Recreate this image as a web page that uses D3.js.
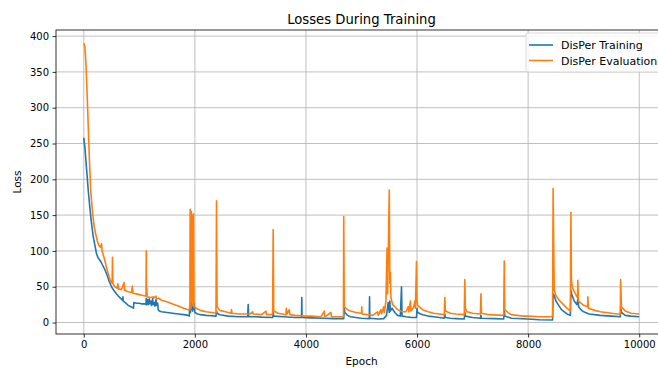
<!DOCTYPE html>
<html>
<head>
<meta charset="utf-8">
<script src="https://cdn.jsdelivr.net/npm/d3@7"></script>
<style>
  body { margin: 0; background: #fff; }
  text { font-family: "DejaVu Sans", sans-serif; }
</style>
</head>
<body>
<div id="chart"></div>
<script>
// Losses During Training - two loss curves over epochs

const seriesNames = ["DisPer Training", "DisPer Evaluation"];
const seriesColors = ["#1f77b4", "#ff7f0e"];
const xTicks = [0, 2000, 4000, 6000, 8000, 10000];
const yTicks = [0, 50, 100, 150, 200, 250, 300, 350, 400];

// [epoch, loss]
const trainLoss = [
  [0,258],[20,245],[50,215],[80,185],[110,160],[140,138],[170,120],[200,108],[230,96],[260,90],
  [300,86],[340,80],[380,74],[420,66],[460,57],[500,50],[540,45],[580,41],[620,37],[660,34],
  [700,31],[705,36],[710,30],[760,27],[800,24],[850,22],[880,21],[895,20],[900,28],[950,27],
  [1000,27],[1050,26],[1100,26],[1120,25],[1125,34],[1130,25],[1150,32],[1160,25],[1180,33],[1190,26],
  [1210,30],[1220,24],[1240,33],[1250,25],[1270,28],[1280,23],[1300,32],[1310,24],[1330,27],[1340,18],
  [1360,16],[1400,15],[1500,14],[1600,13],[1700,12],[1800,11],[1880,10],[1900,9],[1910,26],[1920,14],
  [1940,28],[1960,16],[1990,26],[2000,14],[2050,12],[2100,11],[2200,10],[2300,9.5],[2380,9],[2390,16],
  [2400,13],[2450,11],[2600,9],[2800,8],[2950,8],[2960,25],[2970,8],[3100,8],[3200,7.5],[3400,7],
  [3410,14],[3420,9],[3600,8],[3800,7],[3920,7],[3925,35],[3930,7],[4100,6.5],[4300,6],[4500,5.5],
  [4680,5.5],[4690,20],[4700,14],[4750,10],[4800,8],[4900,7],[5000,6],[5140,5.5],[5145,36],[5150,6],
  [5300,5],[5400,5.5],[5450,10],[5480,28],[5500,14],[5510,30],[5520,16],[5550,20],[5600,14],[5650,10],
  [5700,9],[5720,50],[5730,9],[5800,8],[5900,7],[5990,7],[6000,20],[6010,14],[6100,11],[6200,9],
  [6300,8],[6400,7],[6490,6],[6500,12],[6510,7],[6600,6],[6700,5.5],[6850,5],[6860,15],[6870,9],
  [7000,7],[7140,6],[7150,10],[7160,6],[7400,5.5],[7560,5],[7570,20],[7580,9],[7700,6],[8000,5],
  [8200,4],[8440,3.5],[8450,40],[8470,38],[8500,30],[8550,24],[8600,18],[8700,12],[8760,10],[8770,45],
  [8790,38],[8830,30],[8880,25],[8900,35],[8910,22],[8950,18],[9000,15],[9100,12],[9300,10],[9500,9],
  [9660,8],[9665,22],[9680,14],[9750,10],[9850,9],[9999,8]
];

const evalLoss = [
  [0,390],[20,385],[40,360],[60,320],[80,275],[100,230],[125,185],[150,160],[180,138],[210,125],
  [240,115],[270,108],[300,105],[320,110],[330,100],[360,92],[400,80],[440,68],[480,58],[510,55],
  [517,91],[525,54],[560,50],[600,48],[615,54],[625,47],[680,46],[725,56],[735,45],[800,43],
  [860,42],[875,51],[885,41],[950,40],[1000,39],[1050,38],[1100,37],[1120,37],[1125,100],[1130,37],
  [1135,48],[1140,36],[1200,35],[1250,36],[1260,34],[1300,37],[1310,33],[1350,34],[1400,31],[1500,29],
  [1600,26],[1700,23],[1800,20],[1880,18],[1910,18],[1915,158],[1925,150],[1930,20],[1935,155],[1945,30],
  [1955,150],[1965,25],[1975,152],[1985,22],[2000,21],[2050,19],[2100,17],[2200,15],[2300,14],[2380,13],
  [2390,170],[2400,22],[2450,17],[2550,15],[2650,13],[2660,18],[2670,13],[2800,12],[3000,12],[3040,15],
  [3050,12],[3200,11],[3280,16],[3290,11],[3400,11],[3410,130],[3420,16],[3500,13],[3640,11],[3645,20],
  [3660,12],[3700,18],[3710,11],[3800,10],[4000,9],[4100,9],[4270,8],[4330,16],[4340,8],[4450,14],
  [4460,8],[4600,8],[4675,8],[4680,148],[4690,22],[4750,18],[4800,16],[4900,14],[5000,13],[5005,22],
  [5010,12],[5100,11],[5200,10],[5290,15],[5300,10],[5350,18],[5360,12],[5400,22],[5410,14],[5440,30],
  [5460,104],[5470,40],[5500,185],[5510,55],[5520,70],[5530,35],[5560,25],[5600,22],[5650,18],[5700,16],
  [5750,15],[5800,15],[5840,22],[5850,15],[5880,30],[5890,16],[5940,22],[5960,30],[5970,20],[5990,85],
  [6000,30],[6010,24],[6100,18],[6200,15],[6300,13],[6400,12],[6490,11],[6500,35],[6510,16],[6600,13],
  [6700,12],[6850,11],[6860,60],[6870,20],[6900,15],[7000,13],[7140,12],[7150,40],[7160,13],[7300,11],
  [7560,10],[7570,86],[7580,18],[7650,13],[7700,11],[7800,10],[7900,9],[8000,9],[8200,8],[8440,8],
  [8450,187],[8460,110],[8470,45],[8500,38],[8550,32],[8600,28],[8650,24],[8700,20],[8760,16],[8770,154],
  [8780,58],[8800,48],[8850,40],[8890,35],[8895,59],[8905,30],[8950,27],[9000,24],[9070,22],[9075,36],
  [9085,20],[9200,17],[9300,15],[9400,14],[9500,13],[9600,12],[9660,12],[9665,60],[9680,22],[9750,16],
  [9850,13],[9999,12]
];

const svgWidth = 658;
const svgHeight = 368;

// axes box (right edge runs past the picture, like the reference)
const margin = { top: 30, right: -9, bottom: 34, left: 56 };
const width = svgWidth - margin.left - margin.right;
const height = svgHeight - margin.top - margin.bottom;

const svg = d3.select("#chart")
  .append("svg")
  .attr("width", svgWidth)
  .attr("height", svgHeight);

const chartGroup = svg.append("g")
  .attr("transform", `translate(${margin.left}, ${margin.top})`);

const xScale = d3.scaleLinear().domain([-500, 10500]).range([0, width]);
const yScale = d3.scaleLinear().domain([-16, 408.5]).range([height, 0]);

// grid
chartGroup.append("g")
  .selectAll("line")
  .data(xTicks)
  .join("line")
  .attr("x1", d => xScale(d)).attr("x2", d => xScale(d))
  .attr("y1", 0).attr("y2", height)
  .attr("stroke", "#b0b0b0").attr("stroke-width", 0.8);

chartGroup.append("g")
  .selectAll("line")
  .data(yTicks)
  .join("line")
  .attr("x1", 0).attr("x2", width)
  .attr("y1", d => yScale(d)).attr("y2", d => yScale(d))
  .attr("stroke", "#b0b0b0").attr("stroke-width", 0.8);

// clip for lines
svg.append("defs").append("clipPath").attr("id", "clip")
  .append("rect").attr("width", width).attr("height", height);

const line = d3.line()
  .x(d => xScale(d[0]))
  .y(d => yScale(d[1]));

const plotGroup = chartGroup.append("g").attr("clip-path", "url(#clip)");
[trainLoss, evalLoss].forEach((data, i) => {
  plotGroup.append("path")
    .datum(data)
    .attr("fill", "none")
    .attr("stroke", seriesColors[i])
    .attr("stroke-width", 1.6)
    .attr("stroke-linejoin", "round")
    .attr("d", line);
});

// axes
const bottomAxis = d3.axisBottom(xScale).tickValues(xTicks).tickSize(3.5).tickPadding(3.5).tickFormat(d3.format("d"));
const leftAxis = d3.axisLeft(yScale).tickValues(yTicks).tickSize(3.5).tickPadding(3.5);

const xAxis = chartGroup.append("g")
  .attr("transform", `translate(0, ${height})`)
  .call(bottomAxis);
const yAxis = chartGroup.append("g").call(leftAxis);

[xAxis, yAxis].forEach(ax => {
  ax.select(".domain").remove();
  ax.selectAll(".tick line").attr("stroke", "#000").attr("stroke-width", 0.8);
  ax.selectAll("text").attr("font-size", 10).attr("fill", "#000")
    .attr("font-family", "DejaVu Sans, sans-serif");
});

// frame
chartGroup.append("rect")
  .attr("width", width).attr("height", height)
  .attr("fill", "none").attr("stroke", "#000").attr("stroke-width", 0.8);

// labels
svg.append("text")
  .attr("x", margin.left + width / 2)
  .attr("y", 24)
  .attr("text-anchor", "middle")
  .attr("font-size", 13.2)
  .text("Losses During Training");

svg.append("text")
  .attr("x", margin.left + width / 2)
  .attr("y", 365)
  .attr("text-anchor", "middle")
  .attr("font-size", 10.5)
  .text("Epoch");

svg.append("text")
  .attr("transform", `translate(21, ${margin.top + height / 2}) rotate(-90)`)
  .attr("text-anchor", "middle")
  .attr("font-size", 10.5)
  .text("Loss");

// legend
const legend = svg.append("g").attr("transform", "translate(526, 33)");
legend.append("rect")
  .attr("width", 134).attr("height", 39).attr("rx", 2)
  .attr("fill", "#fff").attr("fill-opacity", 0.8)
  .attr("stroke", "#d0d0d0").attr("stroke-width", 0.8);

seriesNames.forEach((name, i) => {
  const y = 12 + i * 15.5;
  legend.append("line")
    .attr("x1", 3).attr("x2", 27)
    .attr("y1", y).attr("y2", y)
    .attr("stroke", seriesColors[i]).attr("stroke-width", 1.6);
  legend.append("text")
    .attr("x", 35).attr("y", y + 4)
    .attr("font-size", 11)
    .text(name);
});
</script>
</body>
</html>
